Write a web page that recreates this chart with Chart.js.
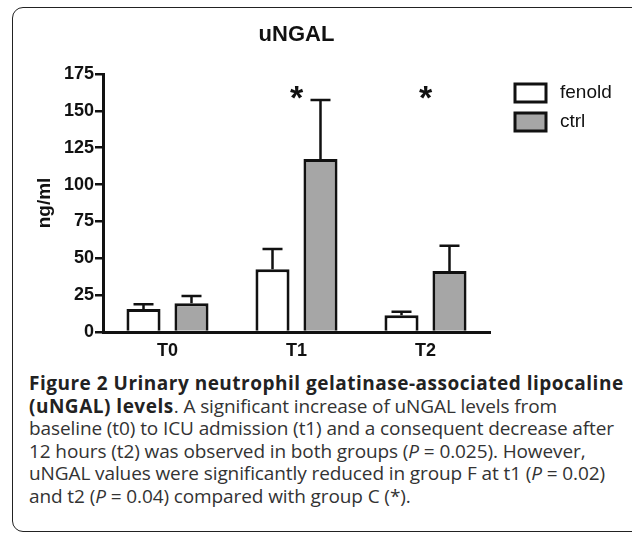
<!DOCTYPE html>
<html>
<head>
<meta charset="utf-8">
<script src="https://cdn.jsdelivr.net/npm/chart.js@4.4.1/dist/chart.umd.min.js"></script>
<style>
body { margin: 0; background: #fff; width: 632px; height: 533px; overflow: hidden; position: relative; }
#frame { position: absolute; left: 12px; top: 7px; width: 660px; height: 525px; border: 1.5px solid #222; border-radius: 11px; box-sizing: border-box; }
#wrap { position: absolute; left: 0; top: 0; width: 632px; height: 370px; }
#caption { position: absolute; left: 29px; top: 372px; font-family: "Open Sans", sans-serif; font-size: 19px; line-height: 22.5px; color: #333; white-space: nowrap; letter-spacing: -0.1px; }
#caption b { color: #222; letter-spacing: 0.5px; }
</style>
</head>
<body>
<div id="frame"></div>
<div id="wrap"><canvas id="chart" width="632" height="370"></canvas></div>
<div id="caption">
<b>Figure 2 Urinary neutrophil gelatinase-associated lipocaline</b><br>
<b>(uNGAL) levels</b>. A significant increase of uNGAL levels from<br>
baseline (t0) to ICU admission (t1) and a consequent decrease after<br>
12 hours (t2) was observed in both groups (<i>P</i> = 0.025). However,<br>
uNGAL values were significantly reduced in group F at t1 (<i>P</i> = 0.02)<br>
and t2 (<i>P</i> = 0.04) compared with group C (*).
</div>
<script>
const categories = ['T0', 'T1', 'T2'];
const fenoldMeans = [15.6, 42.5, 11.3];
const fenoldErrors = [3.2, 13.8, 2.5];
const ctrlMeans = [19.5, 117.4, 41.4];
const ctrlErrors = [4.9, 40, 17.1];
const significance = ['', '*', '*'];
const yMax = 175;
const yStep = 25;

const FONT = '"Liberation Sans", Arial, sans-serif';

// error bars, stars, title and legend drawn on top
const extras = {
    id: 'extras',
    afterDatasetsDraw(chart) {
        const ctx = chart.ctx;
        const y = chart.scales.y;
        const x = chart.scales.x;
        ctx.save();
        ctx.strokeStyle = '#111';
        ctx.lineWidth = 2.5;
        chart.data.datasets.forEach((ds, i) => {
            chart.getDatasetMeta(i).data.forEach((bar, j) => {
                const top = y.getPixelForValue(ds.data[j] + ds.errors[j]);
                ctx.beginPath();
                ctx.moveTo(bar.x, bar.y);
                ctx.lineTo(bar.x, top);
                ctx.moveTo(bar.x - 10, top);
                ctx.lineTo(bar.x + 10, top);
                ctx.stroke();
            });
        });

        // stars
        ctx.fillStyle = '#111';
        ctx.font = 'bold 34px ' + FONT;
        ctx.textAlign = 'center';
        ctx.textBaseline = 'alphabetic';
        significance.forEach((s, j) => {
            if (!s) return;
            ctx.fillText(s, x.getPixelForValue(j), y.getPixelForValue(164) + 19);
        });

        // title
        const area = chart.chartArea;
        ctx.font = 'bold 22px ' + FONT;
        ctx.textBaseline = 'middle';
        ctx.fillText('uNGAL', (area.left + area.right) / 2, 35);

        // legend
        ctx.textAlign = 'left';
        ctx.font = '19px ' + FONT;
        chart.data.datasets.forEach((ds, i) => {
            const ty = 84 + i * 29;
            ctx.fillStyle = ds.backgroundColor;
            ctx.fillRect(515, ty, 31, 18);
            ctx.lineWidth = 3;
            ctx.strokeRect(515, ty, 31, 18);
            ctx.fillStyle = '#111';
            ctx.fillText(ds.label, 560, ty + 9);
        });
        ctx.restore();
    }
};

new Chart(document.getElementById('chart'), {
    type: 'bar',
    data: {
        labels: categories,
        datasets: [
            {
                label: 'fenold',
                data: fenoldMeans,
                errors: fenoldErrors,
                backgroundColor: '#ffffff',
                borderColor: '#111',
                borderWidth: 3
            },
            {
                label: 'ctrl',
                data: ctrlMeans,
                errors: ctrlErrors,
                backgroundColor: '#a6a6a6',
                borderColor: '#111',
                borderWidth: 3
            }
        ]
    },
    options: {
        responsive: false,
        animation: false,
        categoryPercentage: 0.744,
        barPercentage: 0.71,
        layout: { padding: { left: 0, top: 74, right: 142, bottom: 0 } },
        plugins: {
            legend: { display: false },
            title: { display: false },
            tooltip: { enabled: false }
        },
        scales: {
            x: {
                afterFit: (scale) => { scale.height = 38; },
                grid: { drawOnChartArea: false, drawTicks: false },
                border: { color: '#111', width: 3 },
                ticks: { color: '#111', padding: 8, font: { family: FONT, size: 18, weight: 'bold' } }
            },
            y: {
                min: 0,
                max: yMax,
                afterFit: (scale) => { scale.width = 103; },
                grid: { drawOnChartArea: false, tickLength: 8, color: '#111', lineWidth: 2.5 },
                border: { color: '#111', width: 3 },
                ticks: { stepSize: yStep, color: '#111', padding: 1, font: { family: FONT, size: 18, weight: 'bold' } },
                title: {
                    display: true,
                    text: 'ng/ml',
                    color: '#111',
                    padding: { top: 33, bottom: 0 },
                    font: { family: FONT, size: 19, weight: 'bold' }
                }
            }
        }
    },
    plugins: [extras]
});
</script>
</body>
</html>
